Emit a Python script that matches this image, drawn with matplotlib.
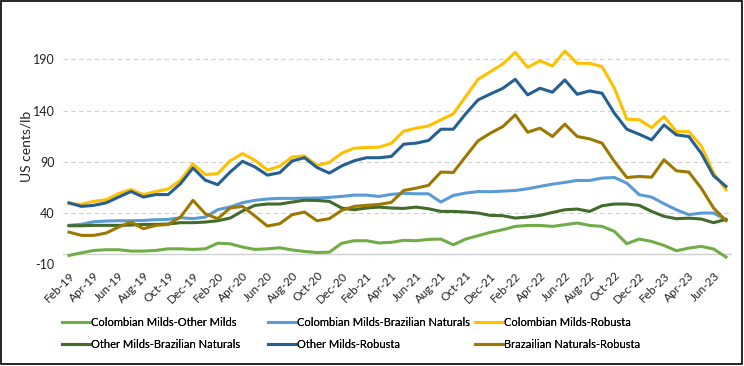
import matplotlib.pyplot as plt
import matplotlib.patches as patches
import numpy as np

plt.rcParams['font.family'] = ['Lato', 'DejaVu Sans']

# monthly, Feb-19 .. Jul-23
months = ['Jan', 'Feb', 'Mar', 'Apr', 'May', 'Jun', 'Jul', 'Aug', 'Sep', 'Oct', 'Nov', 'Dec']
dates = []
for k in range(54):
    m = (1 + k) % 12
    yr = 19 + (1 + k) // 12
    dates.append(f'{months[m]}-{yr}')

colombian_other = [-1.4, 1.2, 3.5, 4.2, 4.2, 2.9, 2.9, 3.5, 5.1, 5.1,
                   4.5, 5.1, 10.6, 10.0, 6.8, 4.5, 5.1, 6.1, 4.0, 2.5,
                   1.5, 1.8, 10.5, 13.0, 13.0, 10.8, 11.4, 13.4, 13.0, 14.3,
                   14.6, 9.0, 14.6, 17.9, 21.2, 23.8, 27.0, 27.9, 27.9, 27.0,
                   28.6, 30.3, 27.9, 27.0, 22.1, 10.1, 14.6, 12.3, 8.4, 3.2,
                   5.8, 7.5, 4.9, -2.9]
colombian_brazilian = [28.0, 29.0, 31.5, 32.2, 32.5, 32.5, 32.8, 33.5, 33.8, 35.4,
                       34.5, 36.1, 43.3, 45.9, 50.1, 52.4, 53.7, 54.3, 54.3, 54.5,
                       54.6, 55.3, 56.2, 57.5, 57.5, 56.2, 58.2, 59.2, 58.8, 58.8,
                       50.7, 57.2, 59.5, 61.0, 60.8, 61.4, 62.0, 63.7, 66.0, 68.2,
                       69.9, 71.8, 71.8, 74.1, 74.7, 69.2, 57.9, 55.6, 49.1, 43.2,
                       38.4, 40.0, 40.0, 33.5]
colombian_robusta = [49.0, 48.5, 51.4, 53.0, 59.0, 63.0, 58.0, 61.0, 63.5, 72.0,
                     88.0, 77.5, 78.5, 91.0, 98.0, 91.5, 82.0, 85.6, 94.7, 95.7,
                     86.4, 89.4, 98.4, 103.3, 104.0, 104.3, 108.0, 120.0, 122.8, 125.0,
                     131.0, 136.8, 153.6, 170.5, 178.0, 185.5, 196.8, 182.2, 188.7, 183.5,
                     198.1, 186.1, 186.1, 182.9, 161.8, 131.6, 131.0, 123.4, 134.2, 119.5,
                     119.5, 105.6, 79.0, 62.7]
other_brazilian = [27.6, 27.6, 28.0, 28.0, 28.0, 28.3, 28.9, 28.9, 29.3, 30.6,
                   30.6, 31.2, 32.5, 35.1, 42.0, 47.5, 48.8, 48.8, 50.7, 52.5,
                   52.3, 51.4, 44.9, 43.2, 44.9, 45.8, 44.9, 44.5, 45.8, 44.2,
                   41.6, 41.6, 41.0, 40.0, 37.7, 37.4, 35.1, 36.1, 37.7, 40.6,
                   43.2, 43.9, 41.6, 47.1, 48.8, 48.8, 47.5, 41.6, 36.8, 34.5,
                   35.0, 34.2, 30.6, 33.8]
other_robusta = [50.0, 46.5, 47.5, 50.0, 55.6, 61.0, 55.6, 58.0, 58.0, 68.7,
                 84.0, 72.0, 67.7, 80.0, 90.5, 85.0, 77.0, 79.4, 90.8, 94.0,
                 84.5, 79.0, 86.0, 91.0, 94.0, 94.0, 95.2, 107.2, 108.2, 110.8,
                 121.8, 121.8, 136.8, 150.4, 156.2, 161.7, 170.5, 155.3, 161.8, 157.9,
                 169.9, 155.9, 159.2, 156.9, 137.4, 121.8, 116.9, 111.4, 126.0, 116.3,
                 114.7, 98.4, 76.4, 66.0]
brazilian_robusta = [21.4, 18.2, 18.2, 20.5, 26.3, 31.2, 24.7, 28.0, 28.9, 36.1,
                     52.4, 39.3, 34.5, 44.9, 46.5, 37.1, 27.3, 29.6, 38.4, 41.0,
                     32.5, 34.5, 42.6, 46.5, 47.5, 48.4, 50.4, 62.0, 64.3, 67.0,
                     80.0, 79.6, 95.2, 110.5, 118.0, 124.4, 135.8, 118.9, 122.8, 114.7,
                     126.7, 114.7, 112.4, 108.2, 90.3, 74.7, 75.7, 75.0, 92.0, 81.2,
                     80.0, 64.4, 44.9, 32.5]

series = [
    ('Colombian Milds-Other Milds', colombian_other, '#70AD47'),
    ('Colombian Milds-Brazilian Naturals', colombian_brazilian, '#5B9BD5'),
    ('Colombian Milds-Robusta', colombian_robusta, '#FFC000'),
    ('Other Milds-Brazilian Naturals', other_brazilian, '#436B2B'),
    ('Other Milds-Robusta', other_robusta, '#265F91'),
    ('Brazailian Naturals-Robusta', brazilian_robusta, '#9C7800'),
]

fig = plt.figure(figsize=(7.44, 3.66), dpi=100)
ax = fig.add_axes([0.0844, 0.2779, 0.8997, 0.588])

x = np.arange(len(dates))
lines = {}
for name, vals, col in series:
    ln, = ax.plot(x, vals, color=col, linewidth=2.2, label=name, solid_joinstyle='round')
    lines[name] = ln

yticks = [-10, 40, 90, 140, 190]
for yv in yticks:
    ax.axhline(yv, color='#D0D0D0', linewidth=0.8, linestyle=(0, (4, 3)), zorder=0)
ax.axhline(0, color='#D0D0D0', linewidth=1.0, zorder=0)

ax.set_xlim(-0.5, 53.5)
ax.set_ylim(-10, 200)
ax.set_yticks(yticks)
ax.set_yticklabels([str(v) for v in yticks], fontsize=9, color='#222222')
ax.set_xticks(x[::2])
ax.set_xticklabels(dates[::2], rotation=45, ha='right', rotation_mode='anchor', fontsize=8.5, color='#222222')
ax.tick_params(length=0, pad=6)
ax.tick_params(axis='x', pad=4)
for s in ax.spines.values():
    s.set_visible(False)
ax.set_ylabel('US cents/lb', fontsize=10, color='#222222')
ax.yaxis.set_label_coords(-0.046, 0.55)

# legend: three equal-width columns, two rows (like Excel)
columns = [
    ['Colombian Milds-Other Milds', 'Other Milds-Brazilian Naturals'],
    ['Colombian Milds-Brazilian Naturals', 'Other Milds-Robusta'],
    ['Colombian Milds-Robusta', 'Brazailian Naturals-Robusta'],
]
col_x = [62 / 744, 268 / 744, 475 / 744]
for cx, names in zip(col_x, columns):
    leg = fig.legend([lines[n] for n in names], names, loc='upper left',
                     bbox_to_anchor=(cx, 1 - 316.5 / 366), frameon=False, fontsize=8,
                     handlelength=2.5, handletextpad=0.15, borderpad=0,
                     borderaxespad=0, labelspacing=1.0)
    fig.add_artist(leg)

fig.patches.append(patches.Rectangle((0.001, 0.006), 0.996, 0.991, transform=fig.transFigure,
                                     fill=False, edgecolor='black', linewidth=1.2))

fig.savefig('out.png', dpi=100)
